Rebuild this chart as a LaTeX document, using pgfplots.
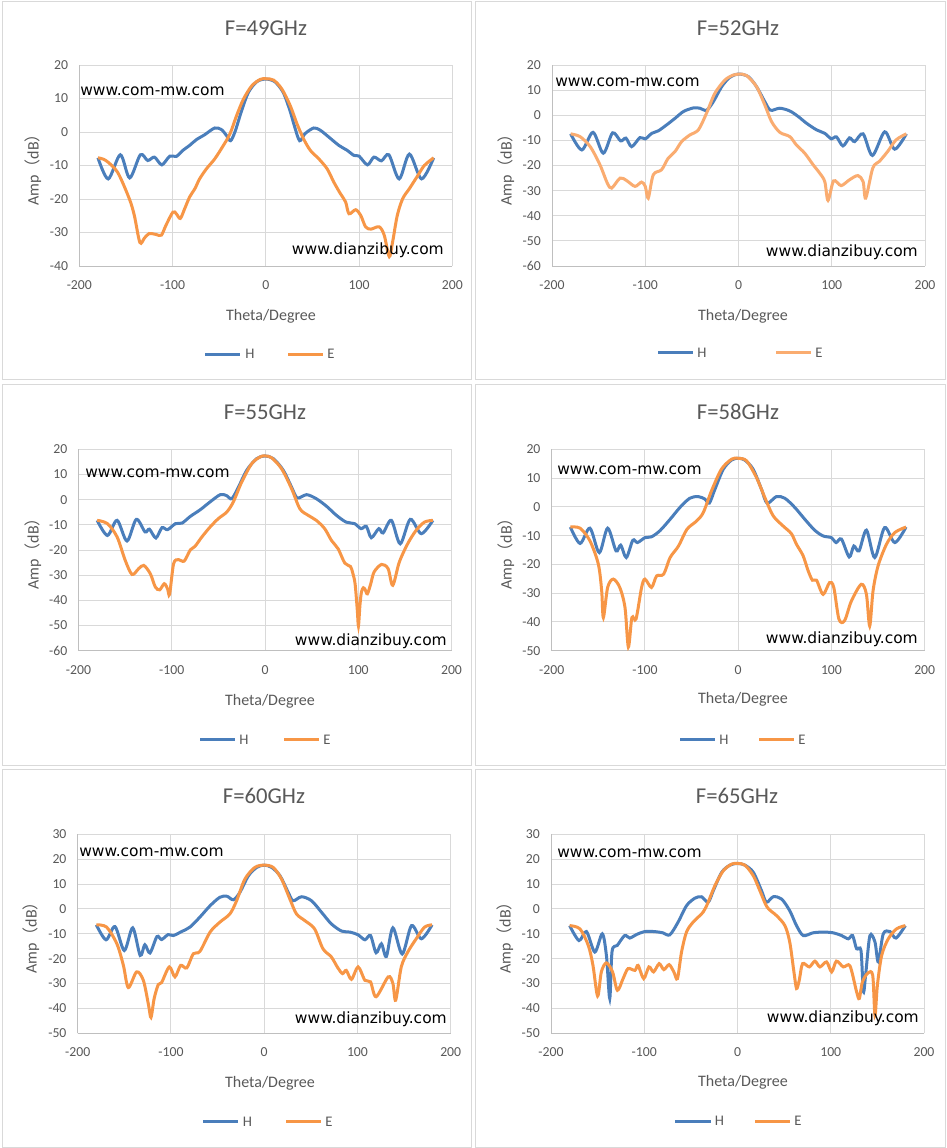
\documentclass[border=0pt]{standalone}
\usepackage{pgfplots}
\pgfplotsset{compat=1.18}
\usepackage{fontspec}
\setmainfont{Carlito}
\newfontfamily\wmfont{DejaVu Sans}
\newfontfamily\cjk{Noto Sans CJK SC}
\definecolor{hc}{RGB}{74,126,187}
\definecolor{ec}{RGB}{247,150,70}
\definecolor{ecl}{RGB}{250,172,112}
\definecolor{txt}{RGB}{89,89,89}
\definecolor{gridc}{RGB}{217,217,217}
\definecolor{axc}{RGB}{191,191,191}
\definecolor{framec}{RGB}{217,217,217}
\pgfplotsset{
 panel/.style={
  scale only axis, width=279.75pt,
  xmin=-200,xmax=200, xtick={-200,-100,0,100,200},
  grid=major, major grid style={draw=gridc, line width=0.75pt},
  axis x line*=bottom, axis y line*=left,
  axis line style={draw=axc, line width=0.75pt, -},
  major tick length=0pt,
  tick label style={font=\fontsize{10.3}{12}\selectfont, text=txt},
  /pgf/number format/assume math mode=true,
  xticklabel style={anchor=center, yshift=-14.25pt},
  yticklabel style={anchor=east, inner sep=0pt, xshift=-8.25pt},
  anchor=south west,
 },
 hcurve/.style={hc, line width=2.25pt, smooth, tension=0.5, no markers},
 ecurve/.style={ec, line width=2.25pt, smooth, tension=0.5, no markers},
}
\newcommand{\ttl}[2]{\node[font=\fontsize{17}{20}\selectfont, text=txt, inner sep=0pt] at (#1) {#2};}
\newcommand{\xlab}[1]{\node[font=\fontsize{12}{14}\selectfont, text=txt, inner sep=0pt] at (#1) {Theta/Degree};}
\newcommand{\ylab}[1]{\node[font=\fontsize{12}{14}\selectfont, text=txt, inner sep=0pt, rotate=90] at (#1) {Amp{\cjk （}dB{\cjk ）}};}
\newcommand{\wmA}[1]{\node[font=\wmfont\fontsize{11.6}{13}\selectfont, anchor=west, inner sep=0pt] at (#1) {www.com-mw.com};}
\newcommand{\wmB}[1]{\node[font=\wmfont\fontsize{11.6}{13}\selectfont, anchor=east, inner sep=0pt] at (#1) {www.dianzibuy.com};}
% legend: y, h-start, h-end, H x, e-start, e-end, E x, E colour
\newcommand{\leg}[8]{%
 \draw[hc, line width=2.25pt] (#2,#1) -- (#3,#1);
 \node[font=\fontsize{11}{13}\selectfont, text=txt, anchor=west, inner sep=0pt] at (#4,#1) {H};
 \draw[#8, line width=2.25pt] (#5,#1) -- (#6,#1);
 \node[font=\fontsize{11}{13}\selectfont, text=txt, anchor=west, inner sep=0pt] at (#7,#1) {E};}
\begin{document}
\begin{tikzpicture}[x=0.75pt,y=-0.75pt]
\path[fill=white, use as bounding box] (0,0) rectangle (946,1148);
\draw[framec, line width=0.75pt] (2,2) rectangle (471,379);
\draw[framec, line width=0.75pt] (475.5,2) rectangle (945,379);
\draw[framec, line width=0.75pt] (2,384.5) rectangle (471,765);
\draw[framec, line width=0.75pt] (475.5,384.5) rectangle (945,765);
\draw[framec, line width=0.75pt] (2,769) rectangle (471,1147);
\draw[framec, line width=0.75pt] (475.5,769) rectangle (945,1147);
\coordinate (a1) at (79.3,266);
\coordinate (a2) at (552,266);
\coordinate (a3) at (78.5,650.7);
\coordinate (a4) at (551.7,650.7);
\coordinate (a5) at (77.7,1033.3);
\coordinate (a6) at (551,1033.3);

% ---------- F=49GHz
\begin{axis}[panel, at={(a1)}, height=150.75pt, ymin=-40, ymax=20, ytick={-40,-30,...,20}]
\addplot[hcurve] coordinates {(-180,-7.7) (-169,-14) (-156,-6.8) (-146,-13.7) (-134.5,-6.8) (-126.6,-8.5) (-119.4,-7.5) (-111.5,-9.8) (-103,-7.2) (-96,-7.3) (-89,-5.5) (-81.7,-4) (-74.5,-2.3) (-65.5,-0.8) (-54.7,1.2) (-47.5,0.7) (-42,-1.1) (-37.8,-2.6) (-33,0.1) (-26,6.3) (-18.7,11.8) (-9.7,15) (0,15.8) (9.7,15) (18.7,11.8) (26,6.3) (31,1.5) (36.3,-2.6) (42,-0.5) (51.4,1.2) (58,0.6) (65.8,-1.1) (78.4,-4) (87.4,-5.5) (94.6,-7) (100,-7.2) (109,-9.8) (116,-7.5) (124,-8.6) (132,-6.8) (143,-14) (154,-6.6) (167,-14) (180,-7.7)};
\addplot[ecurve] coordinates {(-180,-7.7) (-171.6,-8.5) (-159,-12) (-146.4,-19.9) (-141,-24.9) (-135,-33) (-130,-31.6) (-125,-30.3) (-117.6,-30.6) (-112,-30.8) (-107,-27.8) (-99.6,-23.9) (-96,-24.4) (-91.7,-25.8) (-87,-22.9) (-81.7,-19.4) (-76,-16.9) (-71,-14) (-63.7,-11) (-54.7,-8) (-45.7,-4.1) (-38.5,-0.6) (-31.3,4.9) (-24,9.8) (-15,13.8) (-6,15.7) (0,15.9) (8.3,15.5) (17.3,12.8) (26.3,7.8) (33.5,2.4) (40.6,-2.1) (47.8,-5.5) (56.8,-8) (65.8,-11) (73,-15) (80,-18.4) (85.6,-20.9) (89.2,-24.4) (96.4,-23.2) (101.8,-24.9) (107,-28.3) (112.6,-29) (121.6,-28.3) (127,-30.8) (132.4,-37.2) (136,-32.8) (141,-24.9) (146.8,-19.9) (154,-16.9) (163,-13) (170,-10) (180,-7.7)};
\end{axis}

% ---------- F=52GHz
\begin{axis}[panel, at={(a2)}, height=150.75pt, ymin=-60, ymax=20, ytick={-60,-50,...,20}]
\addplot[hcurve] coordinates {(-180,-7.4) (-168,-13.8) (-156,-6.8) (-145,-15.1) (-135,-7) (-126.4,-10.2) (-120.7,-9.1) (-114.6,-12.5) (-105.7,-8.9) (-100,-9.4) (-93,-7.2) (-86,-6.2) (-77,-3.8) (-68,-1.2) (-59,1.5) (-48.6,2.9) (-41.4,2.8) (-34.3,2.0) (-27,5.4) (-18,11.4) (-9.3,15.1) (0,16.4) (10.4,15.4) (19.3,11.4) (28.2,5.4) (34.3,2.0) (44.3,2.8) (55,1.7) (64,-0.5) (73,-3.2) (83.6,-5.8) (92.5,-7.2) (99.6,-9.4) (105,-8.6) (112,-12.2) (119,-9) (124.6,-10.5) (133.6,-7.4) (143.6,-16) (156.8,-6.6) (167.5,-13.5) (180,-7.4)};
\addplot[ecurve, ecl] coordinates {(-180,-7.4) (-170,-8.5) (-159,-12.5) (-148.6,-19.7) (-140.7,-27) (-136,-29) (-127,-25) (-120,-26) (-111,-28.3) (-104,-26.6) (-100,-28.3) (-96.8,-33) (-91.4,-23.7) (-82.5,-21.7) (-75.4,-17.1) (-68,-14.4) (-61,-10.5) (-52,-7.8) (-43,-5.8) (-34.3,0.8) (-25.4,8.7) (-14.6,14) (-5.7,16) (0,16.4) (8.6,15.8) (19.3,11.4) (28.2,4.1) (35.4,-2.5) (44.3,-6.8) (55,-8.5) (62,-11.8) (71,-15.1) (80,-19.7) (87,-23) (92.5,-26.4) (96,-33.9) (102,-26.1) (110,-28) (119,-25.7) (128,-24) (133.6,-26.4) (136.4,-33) (144,-21) (151,-18.4) (160,-14.4) (169,-9.8) (180,-7.4)};
\end{axis}

% ---------- F=55GHz
\begin{axis}[panel, at={(a3)}, height=151pt, ymin=-60, ymax=20, ytick={-60,-50,...,20}]
\addplot[hcurve] coordinates {(-180,-8.2) (-169,-14.2) (-158.6,-8.2) (-148,-16.4) (-138,-7.8) (-128.6,-12.8) (-124,-11.7) (-117,-15.2) (-110.5,-11.1) (-104.5,-11.9) (-96,-9.5) (-89,-9.3) (-80,-6.6) (-69.5,-4) (-59,-0.9) (-48,2.0) (-41,1.6) (-35.6,0.4) (-28.5,5.0) (-19.6,11.7) (-9,16.3) (0,17.4) (9,16.3) (19.6,11.7) (28.5,5.0) (34.6,0.7) (44.6,2.0) (55,0.4) (66,-2.6) (76.6,-6.2) (87,-8.9) (96,-9.5) (103,-11.5) (108.7,-10.6) (114,-15.1) (122,-11.5) (126.6,-13.2) (135.5,-8.2) (145,-17.5) (155.8,-7.8) (167.6,-13.5) (180,-8.2)};
\addplot[ecurve] coordinates {(-180,-8.2) (-169,-9.5) (-158.6,-14.8) (-150,-24) (-142.6,-29.7) (-135.5,-27.4) (-130,-26.1) (-123,-29.4) (-117.6,-34.7) (-113,-35.8) (-108,-33.4) (-104.5,-35.4) (-102.3,-37.6) (-98,-25.4) (-92.7,-23.8) (-86.7,-24.4) (-80,-19.9) (-75,-18.5) (-67.7,-14.8) (-59,-10.9) (-50,-7.5) (-41,-4.9) (-34,-0.9) (-25,7.0) (-14.3,14.3) (-5.3,17) (0,17.4) (7,16.7) (17.8,12.3) (28.5,4.4) (37.4,-3.6) (46.3,-6.2) (55,-8.2) (64,-11.5) (71.3,-16.2) (78.4,-19.5) (85.6,-25.2) (91.6,-26.5) (94,-29) (96.6,-33.4) (99,-44) (100.2,-50.2) (101.8,-42) (103.4,-36.7) (105.5,-35) (107.5,-35.8) (109.8,-37.4) (113.4,-33.4) (117,-28.7) (125,-25.7) (132,-27.4) (137,-34) (144,-24.8) (153,-17.5) (162,-12.2) (171,-8.9) (180,-8.2)};
\end{axis}

% ---------- F=58GHz
\begin{axis}[panel, at={(a4)}, height=151pt, ymin=-50, ymax=20, ytick={-50,-40,...,20}]
\addplot[hcurve] coordinates {(-180,-7) (-169.6,-12.7) (-159,-7.4) (-149,-15.9) (-140,-7.4) (-131,-15.3) (-126,-13.3) (-120,-17.6) (-113,-11.6) (-108,-12.4) (-100,-10.7) (-93,-10.4) (-84,-8.3) (-73,-4.3) (-62.5,-0.2) (-52,3.0) (-43,3.6) (-35.7,2.7) (-31,1.3) (-25,6.1) (-16,13.1) (-7,16.3) (0,16.9) (7,16.3) (16,13.1) (25,6.1) (31,1.3) (41,3.6) (50,3.0) (60.7,-0.2) (71.4,-4.3) (82,-8.1) (91,-10.1) (100,-10.7) (105,-12.4) (110.7,-11.2) (119,-17.4) (124,-13.6) (129.6,-15.3) (137.5,-8.1) (146.4,-17.6) (157,-7.2) (168,-12.4) (180,-7)};
\addplot[ecurve] coordinates {(-180,-7) (-169.6,-7.4) (-159,-11.8) (-150,-19.9) (-146.4,-29.2) (-144.6,-38.5) (-140,-28) (-134,-25.1) (-127,-28) (-121.4,-35) (-117.8,-48.7) (-114,-38.5) (-109.6,-39) (-103.6,-28) (-100,-25.1) (-93,-28) (-87.5,-24) (-80,-23.4) (-73,-17.6) (-64,-13.6) (-55,-7.8) (-44.6,-4.9) (-37.5,-2) (-28.6,5.6) (-18,13.1) (-7,16.6) (0,16.9) (9,16) (19.6,10.2) (28.6,3.2) (37.5,-3.1) (48,-6.6) (57,-9.3) (62.5,-13) (69.6,-17) (75,-22.2) (79.6,-25.5) (84,-25.5) (91,-30.4) (98,-26.3) (102.5,-28) (108,-39) (114,-39.6) (121.4,-32.7) (132,-26.9) (137.5,-30.4) (141,-41.4) (144.6,-29.2) (150,-20.5) (159,-13) (168,-8.9) (180,-7)};
\end{axis}

% ---------- F=60GHz
\begin{axis}[panel, at={(a5)}, height=149.25pt, ymin=-50, ymax=30, ytick={-50,-40,...,30}]
\addplot[hcurve] coordinates {(-180,-6.4) (-169.6,-12.4) (-160,-7.1) (-150,-16.7) (-141,-7.6) (-133,-18.7) (-128,-14.4) (-122.5,-17.7) (-115,-11.1) (-110,-12.3) (-103,-10.3) (-97.5,-10.7) (-88.6,-9.1) (-79.6,-7.3) (-69,-3.3) (-58,1.3) (-47.5,4.7) (-40,5.1) (-33,3.7) (-26,6.7) (-17,13.3) (-8,16.7) (0,17.6) (8,16.7) (17,13.3) (25.7,6.7) (31,3.3) (40,4.9) (50.7,3.3) (61.4,-1.3) (72,-6) (83,-8.9) (92,-9.3) (100.7,-10.4) (108,-12.4) (114,-10.7) (120,-17.6) (125.7,-14) (131,-19.1) (138,-7.6) (148,-18.1) (158,-6.7) (168.6,-12) (180,-6.4)};
\addplot[ecurve] coordinates {(-180,-6.4) (-169,-7.3) (-158,-14) (-151,-22.7) (-145.7,-31.6) (-136.8,-25.3) (-129.6,-28.7) (-124,-38.7) (-121.4,-43.6) (-118,-36) (-113.6,-30.4) (-110,-29.6) (-101.8,-23.3) (-95.7,-27.3) (-89.6,-22.7) (-83,-23.7) (-76,-18) (-69,-17.1) (-58,-9.3) (-47.5,-5.3) (-36.8,-2) (-29.6,3.3) (-20.7,12) (-10,16.7) (0,17.6) (9.6,16.7) (18.6,12) (27.5,4) (34.6,-2) (43.6,-4.7) (54,-8) (63,-16) (72,-19.3) (79,-23.7) (84,-26) (88,-24.7) (93.6,-28.3) (100.7,-23.3) (108,-28.7) (114,-29.3) (120,-35.3) (133,-27.3) (138,-30) (141,-36.7) (147,-23.3) (154,-17.3) (163,-12) (172,-7.3) (180,-6.4)};
\end{axis}

% ---------- F=65GHz
\begin{axis}[panel, at={(a6)}, height=149.25pt, ymin=-50, ymax=30, ytick={-50,-40,...,30}]
\addplot[hcurve] coordinates {(-180,-6.7) (-170,-12.7) (-162,-9.1) (-153,-17.3) (-145,-10) (-140.5,-19) (-137,-36) (-134.5,-17) (-129,-14.7) (-121,-10.7) (-115.6,-11.7) (-108.4,-10.3) (-99.6,-9.1) (-89,-9.1) (-80,-9.6) (-72.6,-10.4) (-63.7,-5.3) (-54.7,1.3) (-45.8,4.3) (-38.6,4.9) (-31.5,2.7) (-26,7.3) (-17,14.7) (-8.2,17.6) (0,18.3) (8,17.6) (17,14.7) (25.8,7.3) (31,2.7) (38.3,4.9) (47.2,4) (56,-0.7) (63.3,-6.7) (70.5,-10.7) (81,-9.6) (92,-9.3) (102.7,-9.6) (111.6,-10.7) (118.8,-12) (123.4,-10.7) (127.7,-16) (132.4,-16.7) (135,-33.3) (137.7,-25.3) (142,-10.7) (147.4,-13.3) (151,-21.3) (156.3,-10) (163.5,-9.1) (170,-11.7) (180,-6.7)};
\addplot[ecurve] coordinates {(-180,-6.7) (-169,-8) (-160,-14.7) (-155,-22.7) (-150,-35) (-146,-25.3) (-140.6,-21.7) (-134,-25.3) (-128.8,-32.7) (-122.7,-28) (-117.4,-24) (-110,-24.7) (-106.6,-22.7) (-100.6,-28) (-95,-23.3) (-90,-25.3) (-84,-22) (-79,-24.4) (-73.3,-22.4) (-68.3,-25.3) (-64.4,-28) (-60,-17.3) (-54.7,-9.3) (-47.6,-5.3) (-36.9,-1.3) (-31.5,2.7) (-24.3,9.3) (-15.4,15.3) (-6.4,18) (0,18.3) (8,17.6) (17,13.3) (24.7,6.7) (31.8,0.7) (41.9,-2.7) (50.8,-6.7) (56,-13.3) (60.5,-25.3) (63.3,-32) (66.2,-28.7) (69.8,-22) (77,-23.3) (83,-21) (88.4,-23.3) (95.5,-21.3) (101,-25.3) (106,-21) (113.5,-23.3) (120.6,-22.9) (127.7,-33.3) (130.6,-36) (134,-29.3) (140,-25.7) (145,-26.7) (147.4,-42.7) (150,-30.7) (154.6,-18.7) (161.7,-12) (170.6,-8) (180,-6.7)};
\end{axis}

% titles
\ttl{266,28}{F=49GHz}
\ttl{738,28}{F=52GHz}
\ttl{265,412}{F=55GHz}
\ttl{738,412}{F=58GHz}
\ttl{264,796}{F=60GHz}
\ttl{737,796}{F=65GHz}
% x labels
\xlab{271,316}
\xlab{743,316}
\xlab{270,701}
\xlab{743,699}
\xlab{270,1083}
\xlab{743,1082}
% y labels
\ylab{33,166}
\ylab{506,166}
\ylab{33,550}
\ylab{506,550}
\ylab{31,934}
\ylab{505,934}
% watermarks
\wmA{80,91}
\wmA{555,82}
\wmA{85,473}
\wmA{557,470}
\wmA{79,852}
\wmA{557,853}
\wmB{444,250}
\wmB{918,252}
\wmB{447,641}
\wmB{918,639}
\wmB{447,1019}
\wmB{919,1018}
% legends
\leg{354}{205.3}{240}{245}{288.3}{323.3}{327}{ec}
\leg{352.3}{658.3}{693.3}{697}{776}{810.7}{815}{ecl}
\leg{739.3}{200}{235.3}{239}{284}{319}{323}{ec}
\leg{739.7}{680}{715.3}{719}{759}{794.3}{798}{ec}
\leg{1121.5}{203}{238}{242.5}{286}{321}{325}{ec}
\leg{1121}{675}{710.7}{714.5}{755}{790}{794}{ec}
\end{tikzpicture}
\end{document}
